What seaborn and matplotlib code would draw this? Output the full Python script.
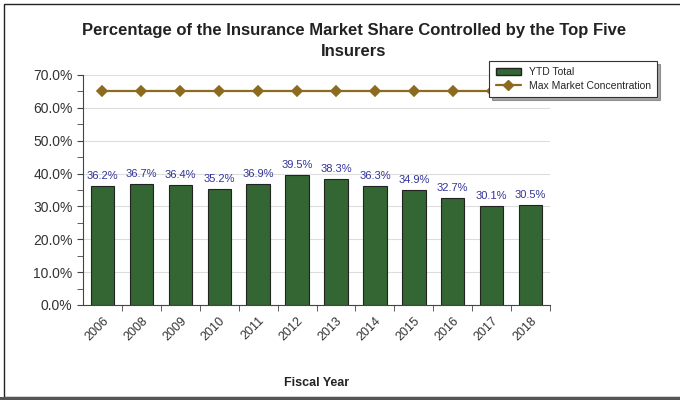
import numpy as np
import pandas as pd
import matplotlib.pyplot as plt
import seaborn as sns
from matplotlib.patches import Rectangle, Patch
from matplotlib.lines import Line2D
from matplotlib.ticker import MultipleLocator, PercentFormatter

years = ['2006', '2008', '2009', '2010', '2011', '2012', '2013', '2014', '2015', '2016', '2017', '2018']
ytd_total = [36.2, 36.7, 36.4, 35.2, 36.9, 39.5, 38.3, 36.3, 34.9, 32.7, 30.1, 30.5]
max_conc = [65.0] * len(years)

df = pd.DataFrame({'year': years, 'ytd': ytd_total, 'max': max_conc})

sns.set_style('white')
plt.rcParams['font.family'] = ['Liberation Sans', 'DejaVu Sans']

fig = plt.figure(figsize=(6.8, 4), dpi=100)
ax = fig.add_axes([0.122, 0.2375, 0.687, 0.575])

bar_color = '#336633'
line_color = '#8B6B1F'

sns.barplot(data=df, x='year', y='ytd', color=bar_color, width=0.6,
            edgecolor='#222222', linewidth=0.8, saturation=1, ax=ax, zorder=2)
sns.pointplot(data=df, x='year', y='max', color=line_color, markers='D',
              markersize=5, linewidth=1.6, ax=ax, zorder=3)

for i, v in enumerate(ytd_total):
    ax.text(i, v + 1.5, f'{v:.1f}%', ha='center', va='bottom', fontsize=8, color='#333399')

ax.set_ylim(0, 70)
ax.set_xlim(-0.5, len(years) - 0.5)
ax.yaxis.set_major_locator(MultipleLocator(10))
ax.yaxis.set_minor_locator(MultipleLocator(5))
ax.yaxis.set_major_formatter(PercentFormatter(decimals=1))
ax.grid(axis='y', color='#dddddd', linewidth=0.8, zorder=0)
ax.set_axisbelow(True)
ax.tick_params(axis='y', which='both', left=True, length=4, color='#444444', labelsize=10, labelcolor='#333333')
ax.tick_params(axis='x', bottom=False, labelsize=9, labelcolor='#333333')
ax.set_xticks(np.arange(len(years)))
ax.set_xticklabels(years, rotation=45, ha='right', rotation_mode='anchor')
ax.set_xticks(np.arange(len(years)) + 0.5, minor=True)
ax.tick_params(axis='x', which='minor', bottom=True, length=4, color='#444444')
for s in ['top', 'right']:
    ax.spines[s].set_visible(False)
for s in ['left', 'bottom']:
    ax.spines[s].set_color('#444444')
    ax.spines[s].set_linewidth(0.8)
ax.set_ylabel('')
ax.set_xlabel('')

fig.text(0.52, 0.898, 'Percentage of the Insurance Market Share Controlled by the Top Five\nInsurers',
         ha='center', va='center', fontsize=12, fontweight='bold', color='#222222', linespacing=1.45)
fig.text(0.465, 0.043, 'Fiscal Year', ha='center', va='center', fontsize=9, fontweight='bold', color='#222222')

handles = [Patch(facecolor=bar_color, edgecolor='#222222', label='YTD Total'),
           Line2D([0], [0], color=line_color, marker='D', markersize=5, linewidth=1.6,
                  label='Max Market Concentration')]
leg = fig.legend(handles=handles, loc='upper left', bbox_to_anchor=(0.712, 0.86),
                 fontsize=7.5, frameon=True, fancybox=False, shadow=True,
                 borderpad=0.6, labelspacing=0.35, handlelength=2.4, handletextpad=0.8)
leg.get_frame().set_edgecolor('#333333')
leg.get_frame().set_linewidth(0.8)

# outer frame: thin black on top/left, heavy grey along the bottom
fig.patches.append(Rectangle((0.006, 0.008), 1.1, 0.981, transform=fig.transFigure,
                             facecolor='white', edgecolor='#222222', linewidth=1.0, zorder=-1))
fig.patches.append(Rectangle((0.0, 0.0), 1.0, 0.008, transform=fig.transFigure,
                             facecolor='#555555', edgecolor='none', zorder=-1))

fig.savefig('out.png', dpi=100)
